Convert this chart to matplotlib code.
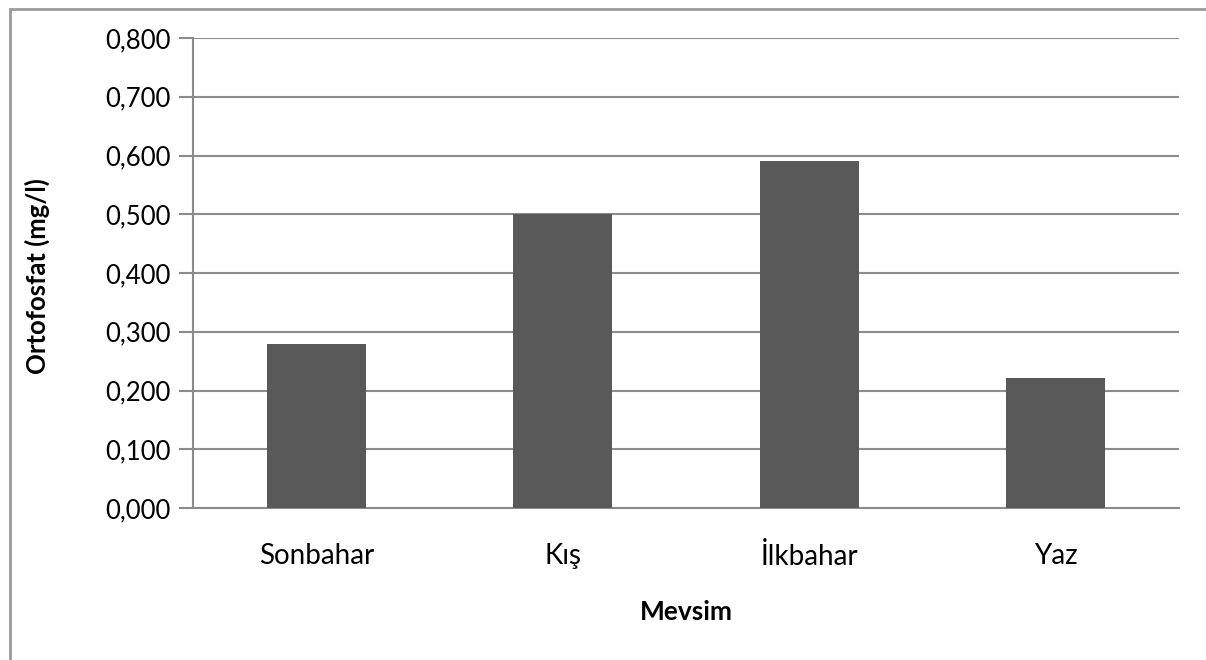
import matplotlib
matplotlib.use("Agg")
import matplotlib.pyplot as plt
from matplotlib.patches import Rectangle

# season averages of orthophosphate
seasons = ["Sonbahar", "Kış", "İlkbahar", "Yaz"]
ortofosfat = [0.280, 0.500, 0.591, 0.221]
yticks = [0.0, 0.1, 0.2, 0.3, 0.4, 0.5, 0.6, 0.7, 0.8]

plt.rcParams["font.family"] = ["Lato", "DejaVu Sans"]

W, H = 1206, 660
fig = plt.figure(figsize=(W / 100, H / 100), dpi=100)
ax = fig.add_axes([193 / W, 1 - 508 / H, (1179 - 193) / W, (508 - 38) / H])

grey = "#8c8c8c"
x = range(len(seasons))
ax.bar(x, ortofosfat, width=0.4, color="#595959", zorder=3)

ax.set_xlim(-0.5, len(seasons) - 0.5)
ax.set_ylim(0, 0.8)
ax.set_yticks(yticks)
ax.set_yticklabels([f"{v:.3f}".replace(".", ",") for v in yticks], fontsize=18.5)
ax.set_xticks(list(x))
ax.set_xticklabels(seasons, fontsize=20)
ax.tick_params(axis="x", length=0, pad=25)
ax.tick_params(axis="y", length=10, width=1.5, color=grey, pad=6)
ax.yaxis.grid(True, color=grey, linewidth=1.5, zorder=0)

for s in ["top", "right"]:
    ax.spines[s].set_visible(False)
for s in ["left", "bottom"]:
    ax.spines[s].set_color(grey)
    ax.spines[s].set_linewidth(1.5)

fig.text(37 / W, 1 - 276 / H, "Ortofosfat (mg/l)", rotation=90, fontsize=18.5,
         fontweight="bold", ha="center", va="center")
fig.text(686 / W, 1 - 612 / H, "Mevsim", fontsize=19, fontweight="bold",
         ha="center", va="center")

# outer chart frame (only left and top edges fall inside the image)
fig.patches.append(Rectangle((9.5 / W, -0.1), 1.2, 1.1 - 8.5 / H,
                             transform=fig.transFigure, fill=False,
                             edgecolor="#9a9a9a", linewidth=2))

fig.savefig("out.png", dpi=100)
